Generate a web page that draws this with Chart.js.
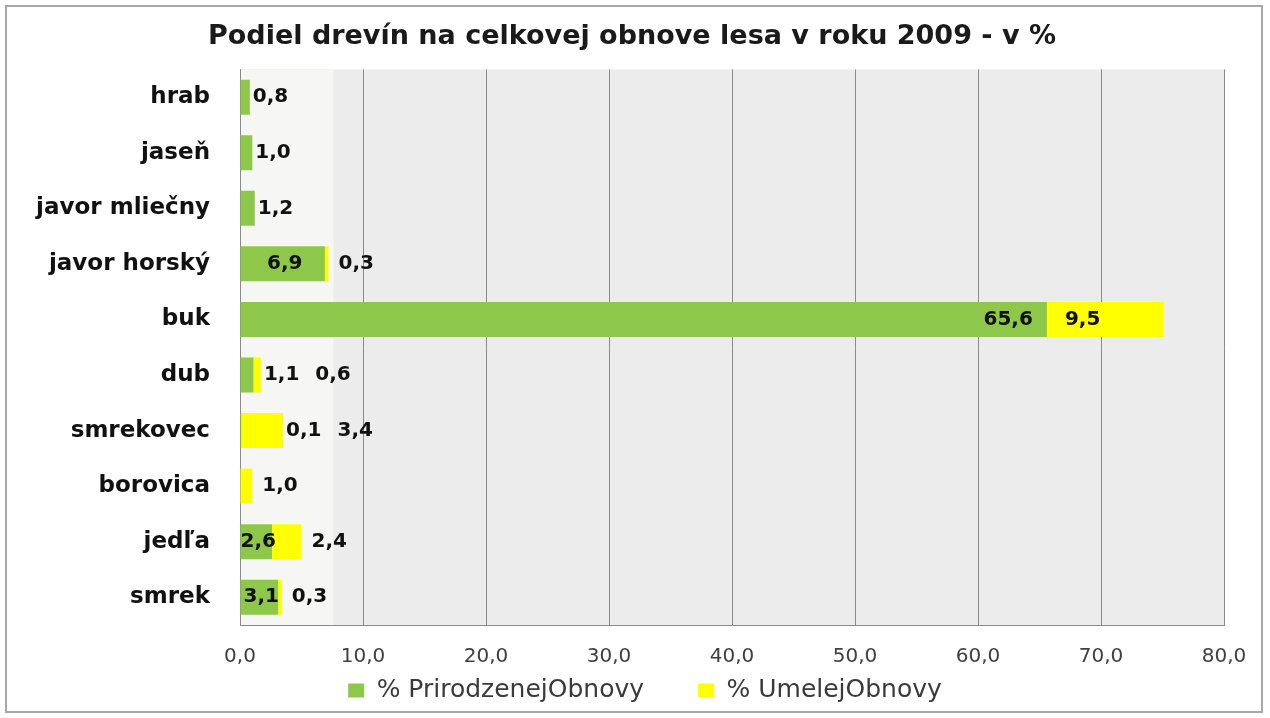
<!DOCTYPE html>
<html>
<head>
<meta charset="utf-8">
<script src="https://cdn.jsdelivr.net/npm/chart.js@4/dist/chart.umd.min.js"></script>
<style>
  html, body { margin: 0; padding: 0; background: #fff; }
  #wrap { position: relative; width: 1270px; height: 718px; }
  #frame {
    position: absolute; left: 5px; top: 5px; width: 1258px; height: 708px;
    border: 2px solid #a8a8a8; box-sizing: border-box; pointer-events: none;
  }
</style>
</head>
<body>
<div id="wrap">
  <canvas id="chart" width="1270" height="718"></canvas>
  <div id="frame"></div>
</div>
<script>
/* ---- data ---- */
const categories = ['hrab', 'jaseň', 'javor mliečny', 'javor horský', 'buk', 'dub', 'smrekovec', 'borovica', 'jedľa', 'smrek'];
const prirodzena = [0.8, 1.0, 1.2, 6.9, 65.6, 1.1, 0.1, 0, 2.6, 3.1];
const umela = [0, 0, 0, 0.3, 9.5, 0.6, 3.4, 1.0, 2.4, 0.3];
const seriesNames = ['% PrirodzenejObnovy', '% UmelejObnovy'];
const xMin = 0, xMax = 80, xStep = 10;

const GREEN = '#8dc84b';
const YELLOW = '#ffff00';
const FONT = '"DejaVu Sans", sans-serif';

const fmt = v => v.toFixed(1).replace('.', ',');

// grey plot background (the original has a paler strip near the axis)
const plotBg = {
  id: 'plotBg',
  beforeDraw(chart) {
    const { ctx, chartArea: a } = chart;
    const xs = chart.scales.x;
    ctx.save();
    ctx.fillStyle = '#ececec';
    ctx.fillRect(a.left, a.top, a.right - a.left, a.bottom - a.top);
    ctx.fillStyle = '#f6f6f4';
    ctx.fillRect(a.left, a.top, xs.getPixelForValue(7.6) - a.left, a.bottom - a.top);
    ctx.restore();
  }
};

// nudge title and legend so they sit where the original has them
const nudge = {
  id: 'nudge',
  afterLayout(chart) {
    const t = chart.titleBlock;
    t.left += 20; t.right += 20;
    const l = chart.legend;
    l.top -= 46;
    l.bottom = chart.height;
    l.height = l.bottom - l.top;
    l.left += 33; l.right += 33;
  }
};

// value labels, placed relative to the bars the library drew
const valueLabels = {
  id: 'valueLabels',
  afterDatasetsDraw(chart) {
    const { ctx } = chart;
    const g = chart.getDatasetMeta(0).data;
    const u = chart.getDatasetMeta(1).data;
    ctx.save();
    ctx.font = 'bold 20px ' + FONT;
    ctx.fillStyle = '#111';
    ctx.textBaseline = 'middle';

    categories.forEach((c, i) => {
      const gb = g[i], ub = u[i];
      const stackEnd = Math.max(gb.x, ub.x);
      let cursor = null;

      if (prirodzena[i] > 0) {
        const txt = fmt(prirodzena[i]);
        const tw = ctx.measureText(txt).width;
        const w = gb.x - gb.base;
        if (w > 3 * tw) {
          ctx.textAlign = 'right';
          ctx.fillText(txt, gb.x - 14, gb.y);
        } else if (w >= tw - 6) {
          ctx.textAlign = 'center';
          ctx.fillText(txt, (gb.x + gb.base) / 2 + 2, gb.y);
        } else {
          ctx.textAlign = 'left';
          ctx.fillText(txt, stackEnd + 3, gb.y);
          cursor = stackEnd + 3 + tw + 16;
        }
      }

      if (umela[i] > 0) {
        const txt = fmt(umela[i]);
        const tw = ctx.measureText(txt).width;
        const w = ub.x - ub.base;
        ctx.textAlign = 'left';
        if (w > 3 * tw) {
          ctx.fillText(txt, ub.base + 18, ub.y);
        } else {
          ctx.fillText(txt, cursor !== null ? cursor : stackEnd + 10, ub.y);
        }
      }
    });
    ctx.restore();
  }
};

const ctx = document.getElementById('chart').getContext('2d');
new Chart(ctx, {
  type: 'bar',
  data: {
    labels: categories,
    datasets: [
      { label: seriesNames[0], data: prirodzena, backgroundColor: GREEN, borderWidth: 0 },
      { label: seriesNames[1], data: umela, backgroundColor: YELLOW, borderWidth: 0 }
    ]
  },
  options: {
    indexAxis: 'y',
    responsive: false,
    animation: false,
    barPercentage: 0.63,
    categoryPercentage: 1,
    layout: { padding: { top: 14, left: 0, right: 46, bottom: 4 } },
    plugins: {
      title: {
        display: true,
        text: 'Podiel drevín na celkovej obnove lesa v roku 2009 - v %',
        color: '#1a1a1a',
        font: { family: FONT, size: 27, weight: 'bold' },
        padding: { top: 7, bottom: 16 }
      },
      legend: {
        position: 'bottom',
        maxHeight: 44,
        labels: {
          color: '#3a3a3a',
          font: { family: FONT, size: 25 },
          boxWidth: 16,
          boxHeight: 14,
          padding: 54
        }
      },
      tooltip: { enabled: false }
    },
    scales: {
      x: {
        stacked: true,
        min: xMin, max: xMax,
        grid: { color: '#8a8a8a', lineWidth: 1, drawTicks: false },
        border: { display: true, color: '#8a8a8a' },
        ticks: {
          stepSize: xStep,
          color: '#404040',
          padding: 20,
          font: { family: FONT, size: 20 },
          callback: v => fmt(v)
        },
        afterFit: s => { s.height = 45; }
      },
      y: {
        stacked: true,
        grid: { color: 'transparent', drawTicks: false },
        border: { display: true, color: '#8a8a8a' },
        ticks: {
          color: '#111',
          padding: 30,
          font: { family: FONT, size: 23, weight: 'bold' }
        },
        afterFit: s => { s.width = 240; }
      }
    }
  },
  plugins: [plotBg, nudge, valueLabels]
});
</script>
</body>
</html>
